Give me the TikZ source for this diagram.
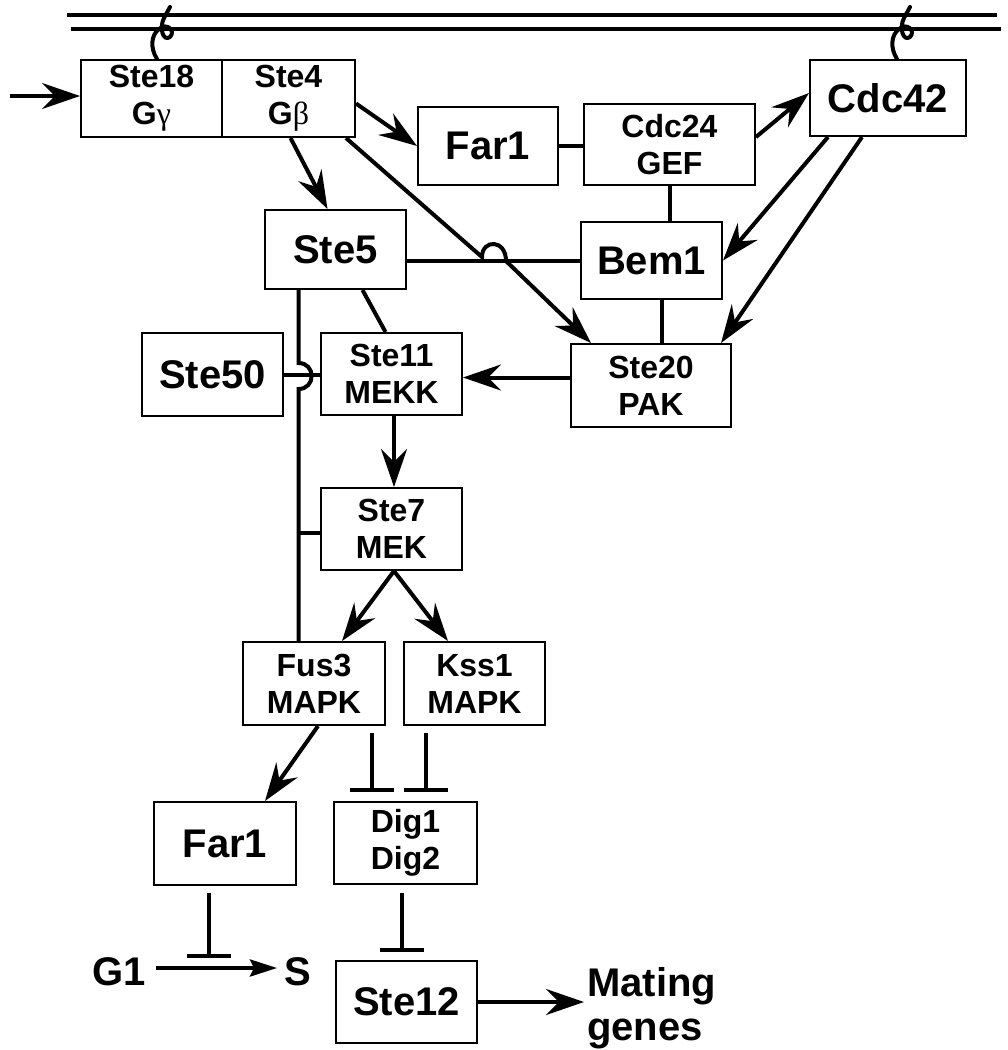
\documentclass[tikz,border=0pt]{standalone}
\usepackage{fontspec}
\setmainfont{Liberation Sans}
\newfontfamily\grk{Liberation Serif}
\usetikzlibrary{arrows.meta}
\newcommand\fsmall{\fontsize{32}{37}\selectfont\bfseries}
\newcommand\flarge{\fontsize{40}{43}\selectfont\bfseries}
\begin{document}
\begin{tikzpicture}[x=1pt,y=-1pt,
  box/.style={draw, line width=2pt, inner sep=0pt, align=center, font=\fsmall},
  bx/.style 2 args={box, minimum width=#1, minimum height=#2},
  big/.style={font=\flarge},
  ln/.style={line width=4pt},
  arr/.style={line width=4pt, -{Stealth[length=38pt,width=26pt,inset=13pt]}},
  arrs/.style={line width=4pt, -{Stealth[length=27pt,width=17pt,inset=4pt]}},
  inh/.style={line width=4pt, -{Bar[width=44pt]}},
  curl/.style={line width=4pt, line cap=round, line join=round},
  mem/.style={line width=4pt},
  lbl/.style={inner sep=0pt, font=\flarge}]

\fill[white] (0,0) rectangle (1008,1050);
\useasboundingbox (0,0) rectangle (1008,1050);

% membrane
\coordinate (m1a) at (67,15); \coordinate (m1b) at (997,15);
\coordinate (m2a) at (71,29); \coordinate (m2b) at (1001,29);
\draw[mem] (m1a) -- (m1b);
\draw[mem] (m2a) -- (m2b);

% boxes
\node[bx={141pt}{77pt}] (s18) at (151.5,98.5) {Ste18\\G{\grk\mdseries γ}};
\node[bx={133pt}{77pt}] (s4) at (288.5,98.5) {Ste4\\G{\grk\mdseries β}};
\node[bx={140pt}{78pt},big] (far1t) at (488,146) {Far1};
\node[bx={171pt}{81pt}] (cdc24) at (669.5,144.5) {Cdc24\\GEF};
\node[bx={156pt}{76pt},big] (cdc42) at (888,98) {Cdc42};
\node[bx={141pt}{79pt},big] (ste5) at (335.5,249.5) {Ste5};
\node[bx={141pt}{77pt},big] (bem1) at (651.5,260.5) {Bem1};
\node[bx={160pt}{83pt}] (ste20) at (651,385.5) {Ste20\\PAK};
\node[bx={141pt}{83pt},big] (ste50) at (212.5,374.5) {Ste50};
\node[bx={141pt}{82pt}] (ste11) at (391.5,374) {Ste11\\MEKK};
\node[bx={141pt}{82pt}] (ste7) at (391.5,529) {Ste7\\MEK};
\node[bx={142pt}{83pt}] (fus3) at (314,683.5) {Fus3\\MAPK};
\node[bx={141pt}{83pt}] (kss1) at (474.5,683.5) {Kss1\\MAPK};
\node[bx={142pt}{83pt},big] (far1b) at (225,843.5) {Far1};
\node[bx={143pt}{82pt}] (dig) at (405.5,843) {Dig1\\Dig2};
\node[bx={141pt}{82pt},big] (ste12) at (406.5,1002) {Ste12};

% free labels
\node[lbl, anchor=east] (g1) at (146,972) {G1};
\node[lbl, anchor=west] (sph) at (284,972) {S};
\node[lbl, anchor=west, align=left, font=\fontsize{40}{44}\selectfont\bfseries] (mg) at (587,1008) {Mating\\genes};

% membrane anchors
\draw[curl] ([xshift=5.5pt]s18.north) .. controls (150,48) and (151,35) .. (159,29)
  .. controls (167,22) and (176,31) .. (170,37)
  .. controls (163,42) and (159,28) .. (164,18) -- (170,7);
\draw[curl] ([xshift=9pt]cdc42.north) .. controls (890,48) and (891,35) .. (899,29)
  .. controls (907,22) and (916,31) .. (910,37)
  .. controls (903,42) and (899,28) .. (904,18) -- (910,7);

% input
\coordinate (in) at (10,96);
\draw[arr] (in) -- (in -| s18.west);

% top part
\draw[arr] ([yshift=-5pt]s4.east) -- (far1t.west);
\draw[ln] (far1t.east) -- (far1t.east -| cdc24.west);
\draw[arr] ([yshift=7.5pt]cdc24.east) -- ([yshift=5pt]cdc42.west);
\draw[arr] ([xshift=2pt]s4.south) -- ([xshift=-8pt]ste5.north);

\coordinate (h1) at (482,257);
\coordinate (h2) at (506,261);
\draw[ln] (bem1.west) -- (bem1.west -| ste5.east);
\draw[arr] ([xshift=-10pt]s4.south east) -- (h1)
  .. controls (482,239) and (506,239) .. (h2)
  -- ([xshift=21pt]ste20.north west);

\draw[ln] (cdc24.south) -- (cdc24.south |- bem1.north);
\draw[arr] ([xshift=-60pt]cdc42.south) -- (bem1.east);
\draw[arr] ([xshift=-26pt]cdc42.south) -- ([xshift=-11pt]ste20.north east);
\draw[ln] ([xshift=10pt]bem1.south) -- ([xshift=10pt]bem1.south |- ste20.north);
\draw[arr] ([yshift=8pt]ste20.west) -- ([yshift=8pt]ste20.west -| ste11.east);
\draw[ln] ([xshift=27pt]ste5.south) -- ([xshift=-6pt]ste11.north);
\draw[ln] (ste50.east) -- (ste50.east -| ste11.west);

% scaffold vertical with hop
\coordinate (v1) at ([xshift=-37pt]ste5.south);
\coordinate (h3) at (298.5,363);
\coordinate (h4) at (298.5,389);
\draw[ln] (v1) -- (h3) .. controls (316,363) and (316,389) .. (h4) -- (v1 |- fus3.north);
\draw[ln] ([yshift=-4pt]ste7.west) -- ([yshift=-4pt]ste7.west -| v1);

% MAPK cascade
\draw[arr] ([xshift=2.5pt]ste11.south) -- ([xshift=2.5pt]ste7.north);
\draw[arr] ([xshift=2.5pt]ste7.south) -- ([xshift=28pt]fus3.north);
\draw[arr] ([xshift=2.5pt]ste7.south) -- ([xshift=-26.5pt]kss1.north);
\draw[arr] ([xshift=4pt]fus3.south) -- ([xshift=40pt]far1b.north);
\draw[inh, shorten <=7pt, shorten >=9pt] ([xshift=58pt]fus3.south) -- ([xshift=58pt]fus3.south |- dig.north);
\draw[inh, shorten <=7pt, shorten >=9pt] ([xshift=-48.5pt]kss1.south) -- ([xshift=-48.5pt]kss1.south |- dig.north);

% bottom
\coordinate (gs1) at ([xshift=10pt,yshift=4pt]g1.east);
\draw[arrs] (gs1) -- ([xshift=-7pt,yshift=4pt]sph.west);
\draw[inh, shorten <=7pt, shorten >=10pt] ([xshift=-16pt]far1b.south) -- ([xshift=-16pt]far1b.south |- gs1);
\draw[inh, shorten <=8pt, shorten >=8pt] ([xshift=-3.5pt]dig.south) -- ([xshift=-3.5pt]dig.south |- ste12.north);
\draw[arr] (ste12.east) -- ([xshift=-3pt]mg.west |- ste12.east);
\end{tikzpicture}
\end{document}
